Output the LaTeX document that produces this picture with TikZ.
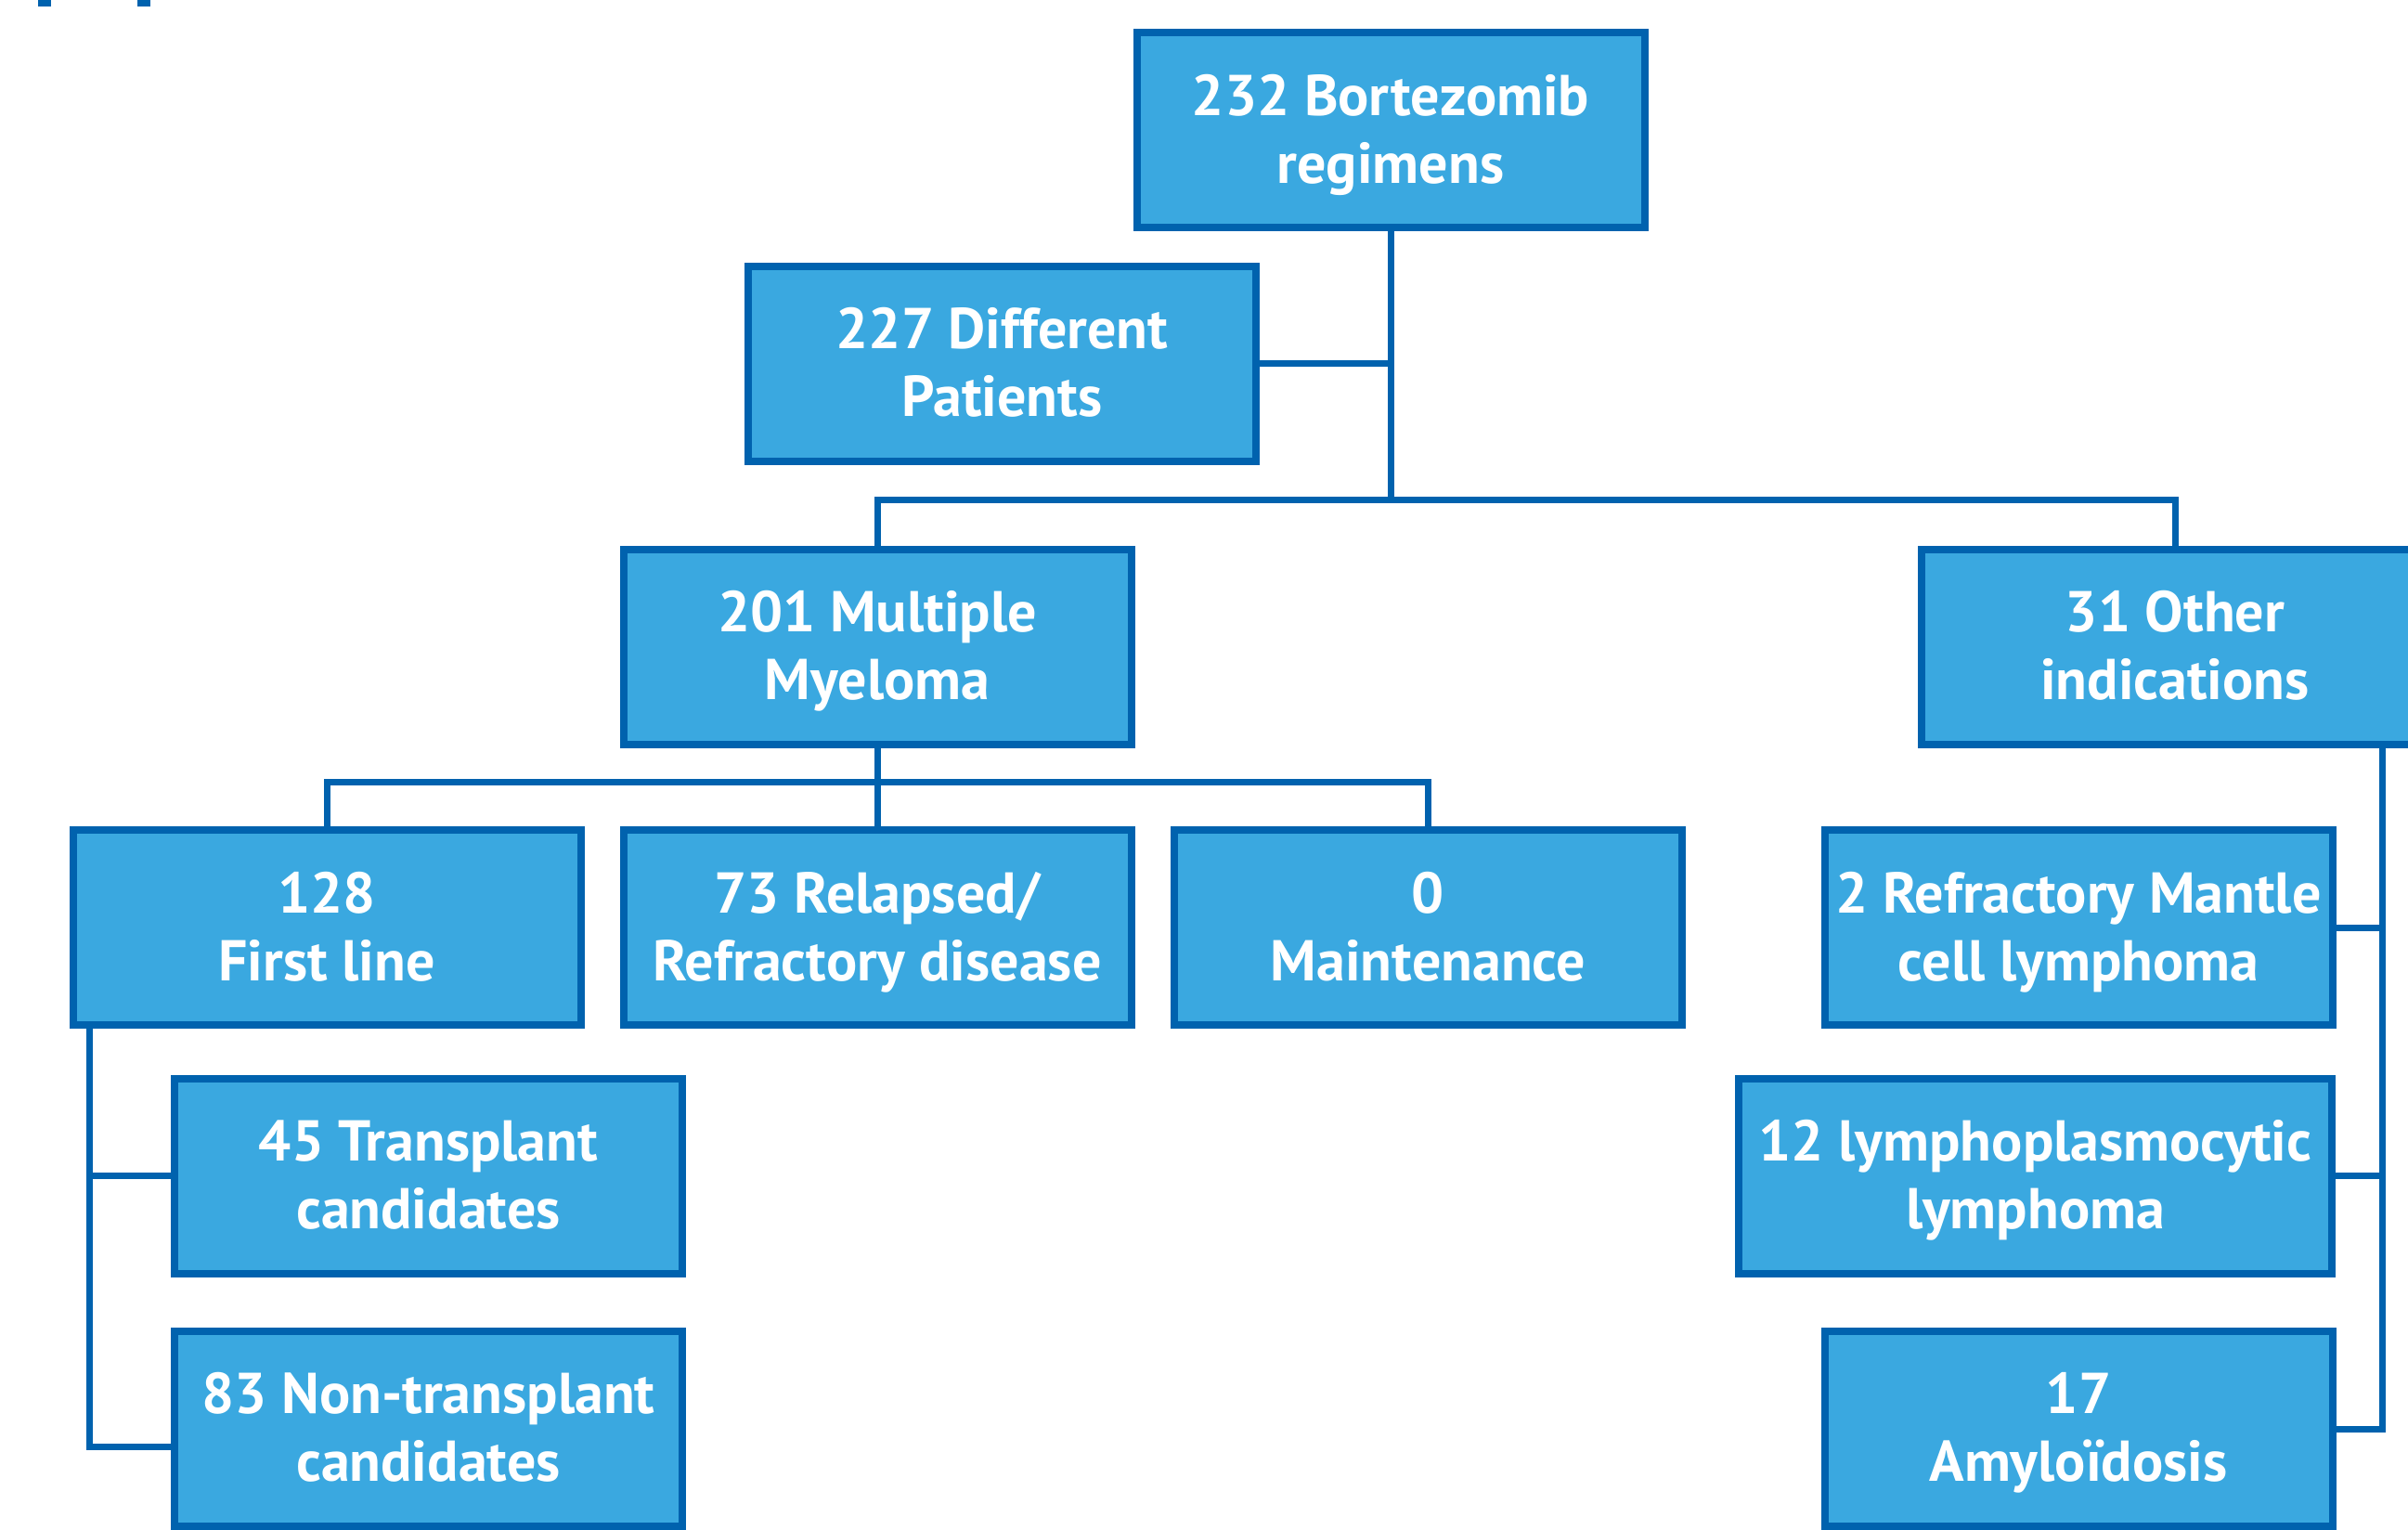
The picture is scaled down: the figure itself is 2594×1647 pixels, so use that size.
\documentclass[tikz,border=0pt]{standalone}
\usepackage{fontspec}
\setmainfont{PT Sans}
\definecolor{boxfill}{RGB}{58,168,224}
\definecolor{boxline}{RGB}{0,98,174}
\newcommand\twoline[2]{\raisebox{16pt}[0pt][0pt]{\begin{tabular}[t]{@{}c@{}}#1\\#2\end{tabular}}}
\begin{document}
\begin{tikzpicture}[x=1pt,y=-1pt,
  box/.style={draw=boxline, fill=boxfill, line width=8pt, minimum width=547pt, minimum height=210pt,
    inner sep=0pt, text=white,
    font=\fontsize{62}{73}\selectfont\bfseries},
  conn/.style={draw=boxline, line width=7pt}]
\useasboundingbox (0,0) rectangle (2594,1647);
\fill[boxline] (41,0) rectangle (55,6.5);
\fill[boxline] (148,0) rectangle (162,6.5);

\node[box] (top) at (1498,140) {\twoline{232 Bortezomib}{regimens}};
\node[box] (pat) at (1079.5,391.5) {\twoline{227 Different}{Patients}};
\node[box] (mm) at (945,696.5) {\twoline{201 Multiple}{Myeloma}};
\node[box] (oth) at (2343,696.5) {\twoline{31 Other}{indications}};
\node[box] (fl) at (352,999) {\twoline{128}{First line}};
\node[box] (rel) at (945,999) {\twoline{73 Relapsed/}{Refractory disease}};
\node[box] (mnt) at (1538.5,999) {\twoline{0}{Maintenance}};
\node[box] (mcl) at (2239,999) {\twoline{2 Refractory Mantle}{cell lymphoma}};
\node[box, minimum width=639pt] (lpl) at (2192.5,1266.5) {\twoline{12 lymphoplasmocytic}{lymphoma}};
\node[box] (tr) at (461.5,1266.5) {\twoline{45 Transplant}{candidates}};
\node[box] (ntr) at (461.5,1538.5) {\twoline{83 Non-transplant}{candidates}};
\node[box] (amy) at (2239,1538.5) {\twoline{17}{Amyloïdosis}};

\coordinate (j1) at (1498,538);
\coordinate (j2) at (945,842);
\coordinate (j3) at (96,1558);
\coordinate (j4) at (2566,1539);

\draw[conn] (top.south) -- (j1);
\draw[conn] (pat.east) -- (pat.east -| j1);
\draw[conn] (mm.north) |- (j1) -| (oth.north);
\draw[conn] (mm.south) -- (j2);
\draw[conn] (fl.north) |- (j2) -| (mnt.north);
\draw[conn] (j2) -- (rel.north);
\draw[conn] (fl.south -| j3) -- (j3) -- (j3 -| ntr.west);
\draw[conn] (tr.west) -- (tr.west -| j3);
\draw[conn] (oth.south -| j4) -- (j4) -- (j4 -| amy.east);
\draw[conn] (mcl.east) -- (mcl.east -| j4);
\draw[conn] (lpl.east) -- (lpl.east -| j4);
\end{tikzpicture}
\end{document}
